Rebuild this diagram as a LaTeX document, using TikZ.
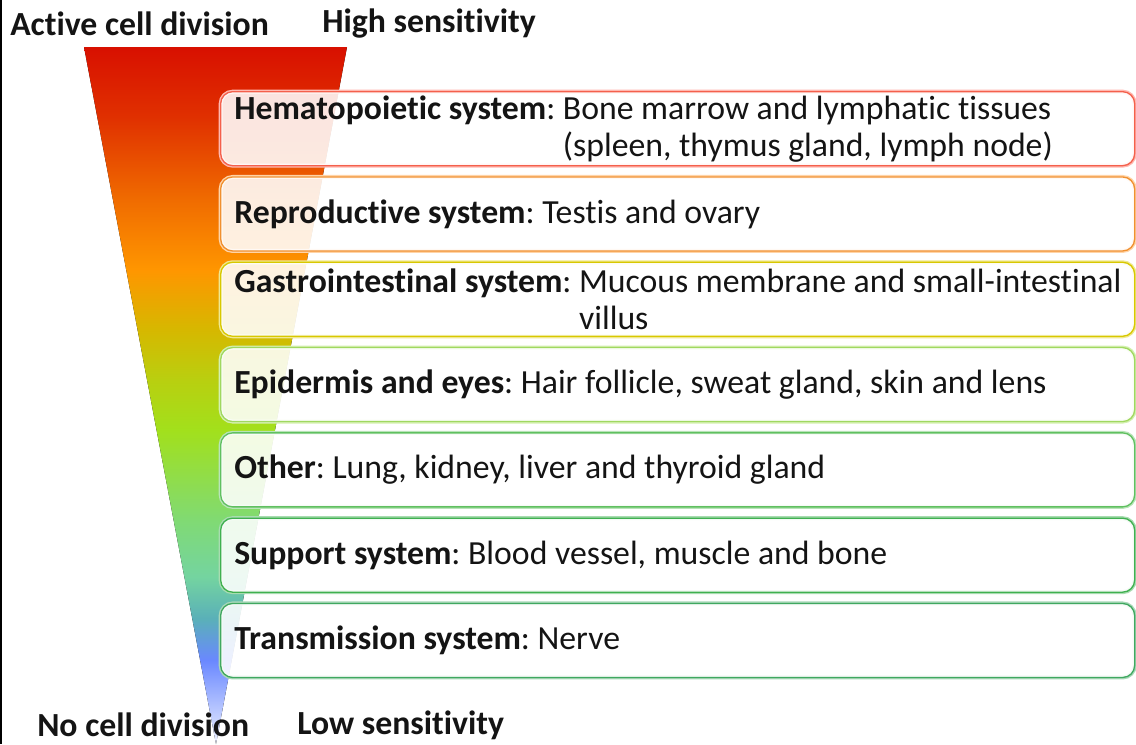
\documentclass[tikz,border=0pt]{standalone}
\usepackage{fontspec}
\setmainfont{Carlito}[RawFeature={-liga}]
\frenchspacing
\definecolor{s0}{HTML}{EEF2FF}
\definecolor{s1}{HTML}{6A88FF}
\definecolor{s2}{HTML}{5AB0B8}
\definecolor{s3}{HTML}{74D4A0}
\definecolor{s4}{HTML}{80DA74}
\definecolor{s5}{HTML}{A2E01C}
\definecolor{s6}{HTML}{B8D010}
\definecolor{s7}{HTML}{D6B800}
\definecolor{s8}{HTML}{FF9600}
\definecolor{s9}{HTML}{F06C00}
\definecolor{s10}{HTML}{E03000}
\definecolor{s11}{HTML}{D81000}
\pgfdeclareverticalshading{funnelshade}{100bp}{color(0bp)=(s0); color(25bp)=(s0); color(31bp)=(s1); color(34bp)=(s2); color(37bp)=(s3); color(41bp)=(s4); color(47.5bp)=(s5); color(51bp)=(s6); color(54.7bp)=(s7); color(59bp)=(s8); color(64bp)=(s9); color(70bp)=(s10); color(75bp)=(s11); color(100bp)=(s11)}
\definecolor{d1}{HTML}{F4604C}\definecolor{l1}{HTML}{FFB8B0}
\definecolor{d2}{HTML}{F09030}\definecolor{l2}{HTML}{FFD4A8}
\definecolor{d3}{HTML}{D8C800}\definecolor{l3}{HTML}{F0E890}
\definecolor{d4}{HTML}{A0D860}\definecolor{l4}{HTML}{D4F0B0}
\definecolor{d5}{HTML}{60C060}\definecolor{l5}{HTML}{B8E4B8}
\definecolor{d6}{HTML}{40B050}\definecolor{l6}{HTML}{A8DCB0}
\definecolor{d7}{HTML}{40A860}\definecolor{l7}{HTML}{A8D8B8}
\definecolor{txt}{HTML}{141414}
\tikzset{
  lbl/.style={anchor=west, inner sep=0pt, font=\fontsize{25.3}{28}\selectfont\bfseries, text=txt},
  box/.style={rounded corners=9pt, fill=white, fill opacity=0.88,
    minimum width=685.5pt, minimum height=55.5pt, inner sep=0pt,
    anchor=north west, line width=1pt},
  itemtext/.style={anchor=west, inner sep=0pt, align=left,
    font=\fontsize{25.3}{27.75}\selectfont, text=txt},
}
\begin{document}
\begin{tikzpicture}[x=0.75pt, y=-0.75pt]
\useasboundingbox (0,0) rectangle (1136,744);
\fill[white] (0,0) rectangle (1136,744);
\draw[black, line width=2.2pt] (1,0) -- (1,744);
\fill[shading=funnelshade] (84,47) -- (347,47) -- (216,744) -- cycle;
\node[box, draw=d1, preaction={draw=l1, line width=3pt}] (b1) at (220,91) {};
\node[box, draw=d2, preaction={draw=l2, line width=3pt}] (b2) at (220,176.3) {};
\node[box, draw=d3, preaction={draw=l3, line width=3pt}] (b3) at (220,261.6) {};
\node[box, draw=d4, preaction={draw=l4, line width=3pt}] (b4) at (220,346.9) {};
\node[box, draw=d5, preaction={draw=l5, line width=3pt}] (b5) at (220,432.2) {};
\node[box, draw=d6, preaction={draw=l6, line width=3pt}] (b6) at (220,517.5) {};
\node[box, draw=d7, preaction={draw=l7, line width=3pt}] (b7) at (220,602.8) {};
\node[itemtext] (x1) at ([xshift=10.5pt]b1.west) {\textbf{Hematopoietic system}: Bone marrow and lymphatic tissues\\\hphantom{\textbf{Hematopoietic system}: }(spleen, thymus gland, lymph node)};
\node[itemtext] (x2) at ([xshift=10.5pt]b2.west) {\textbf{Reproductive system}: Testis and ovary};
\node[itemtext] (x3) at ([xshift=10.5pt]b3.west) {\textbf{Gastrointestinal system}: Mucous membrane and small-intestinal\\\hphantom{\textbf{Gastrointestinal system}: }villus};
\node[itemtext] (x4) at ([xshift=10.5pt]b4.west) {\textbf{Epidermis and eyes}: Hair follicle, sweat gland, skin and lens};
\node[itemtext] (x5) at ([xshift=10.5pt]b5.west) {\textbf{Other}: Lung, kidney, liver and thyroid gland};
\node[itemtext] (x6) at ([xshift=10.5pt]b6.west) {\textbf{Support system}: Blood vessel, muscle and bone};
\node[itemtext] (x7) at ([xshift=10.5pt]b7.west) {\textbf{Transmission system}: Nerve};
\node[lbl] (t1) at (10,24) {Active cell division};
\node[lbl] (t2) at (322,24) {High sensitivity};
\node[lbl] (t3) at (37,725) {No cell division};
\node[lbl] (t4) at (297,725) {Low sensitivity};
\end{tikzpicture}
\end{document}
